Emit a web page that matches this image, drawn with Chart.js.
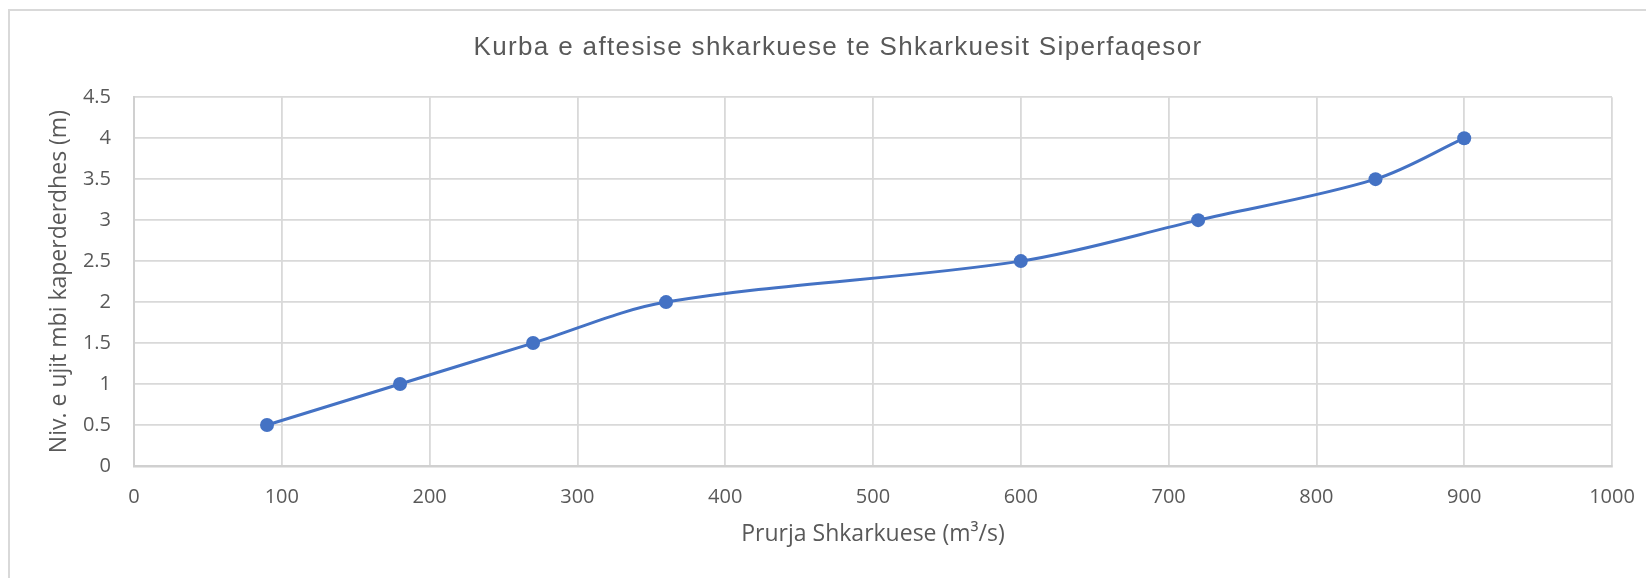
<!DOCTYPE html>
<html>
<head>
<meta charset="utf-8">
<script src="https://cdn.jsdelivr.net/npm/chart.js@4.4.1/dist/chart.umd.min.js"></script>
<style>
  html, body { margin: 0; padding: 0; background: #ffffff; overflow: hidden; }
  #frame { position: absolute; left: 8px; top: 9px; width: 1700px; height: 700px;
           border-left: 2px solid #d9d9d9; border-top: 2px solid #d9d9d9; }
  #c { position: absolute; left: 0; top: 0; }
</style>
</head>
<body>
<div id="frame"></div>
<canvas id="c" width="1646" height="578"></canvas>
<script>
// ---- data ----
const discharge = [90, 180, 270, 360, 600, 720, 840, 900];     // Prurja (m3/s)
const waterLevel = [0.5, 1, 1.5, 2, 2.5, 3, 3.5, 4];           // Niv. (m)
const xTickValues = [0, 100, 200, 300, 400, 500, 600, 700, 800, 900, 1000];
const xTickLabels = ['0', '100', '200', '300', '400', '500', '600', '700', '800', '900', '1000'];
const yTickValues = [0, 0.5, 1, 1.5, 2, 2.5, 3, 3.5, 4, 4.5];
const yTickLabels = ['0', '0.5', '1', '1.5', '2', '2.5', '3', '3.5', '4', '4.5'];
const chartTitle = 'Kurba e aftesise shkarkuese te Shkarkuesit Siperfaqesor';
const xTitle = 'Prurja Shkarkuese (m³/s)';
const yTitle = 'Niv. e ujit mbi kaperderdhes (m)';

const points = discharge.map((x, i) => ({ x: x, y: waterLevel[i] }));
const gray = '#595959';
const gridColor = '#d9d9d9';

// Title styling: a little letter spacing and a horizontal shift (the source chart is wider than the window)
const titleStyler = {
  id: 'titleStyler',
  beforeDraw(chart) {
    const tb = chart.titleBlock;
    if (tb && !tb._patched) {
      const orig = tb.draw;
      tb.draw = function () {
        const ctx = this.ctx;
        ctx.save();
        ctx.letterSpacing = '1.35px';
        ctx.translate(32, 0);
        orig.apply(this, arguments);
        ctx.restore();
      };
      tb._patched = true;
    }
  }
};

new Chart(document.getElementById('c'), {
  type: 'scatter',
  data: {
    datasets: [{
      data: points,
      showLine: true,
      borderColor: '#4472C4',
      backgroundColor: '#4472C4',
      borderWidth: 3,
      tension: 0.33,
      pointRadius: 7,
      pointBorderWidth: 0,
      pointHoverRadius: 7
    }]
  },
  plugins: [titleStyler],
  options: {
    responsive: false,
    animation: false,
    events: [],
    layout: { padding: { left: 0, right: 34, top: 0, bottom: 0 } },
    plugins: {
      legend: { display: false },
      tooltip: { enabled: false },
      title: {
        display: true,
        text: chartTitle,
        color: gray,
        font: { family: '"Liberation Sans", Arial, sans-serif', size: 26, weight: 'normal', lineHeight: 1.2 },
        padding: { top: 32, bottom: 34 }
      }
    },
    scales: {
      x: {
        type: 'linear',
        min: 0, max: 1000,
        afterBuildTicks: (s) => { s.ticks = xTickValues.map(v => ({ value: v })); },
        afterFit: (s) => { s.height = 112; s.paddingLeft = 0; s.paddingRight = 0; },
        ticks: {
          color: gray,
          padding: 19,
          maxRotation: 0,
          font: { family: '"Open Sans", sans-serif', size: 20 },
          callback: (v) => { const i = xTickValues.indexOf(v); return i >= 0 ? xTickLabels[i] : ''; }
        },
        grid: { color: gridColor, lineWidth: 1.8, drawTicks: false },
        border: { color: '#d0d0d0', width: 2.5 },
        title: {
          display: true,
          text: xTitle,
          color: gray,
          font: { family: '"Open Sans", sans-serif', size: 23, lineHeight: 1.2 },
          padding: { top: 0, bottom: 30 }
        }
      },
      y: {
        type: 'linear',
        min: 0, max: 4.5,
        afterBuildTicks: (s) => { s.ticks = yTickValues.map(v => ({ value: v })); },
        afterFit: (s) => { s.width = 134; },
        ticks: {
          color: gray,
          padding: 23,
          font: { family: '"Open Sans", sans-serif', size: 20 },
          callback: (v) => { const i = yTickValues.indexOf(v); return i >= 0 ? yTickLabels[i] : ''; }
        },
        grid: { color: gridColor, lineWidth: 1.8, drawTicks: false },
        border: { color: '#d0d0d0', width: 2 },
        title: {
          display: true,
          text: yTitle,
          color: gray,
          font: { family: '"Open Sans", sans-serif', size: 23, lineHeight: 1.2 },
          padding: { top: 46, bottom: 0 }
        }
      }
    }
  }
});
</script>
</body>
</html>
